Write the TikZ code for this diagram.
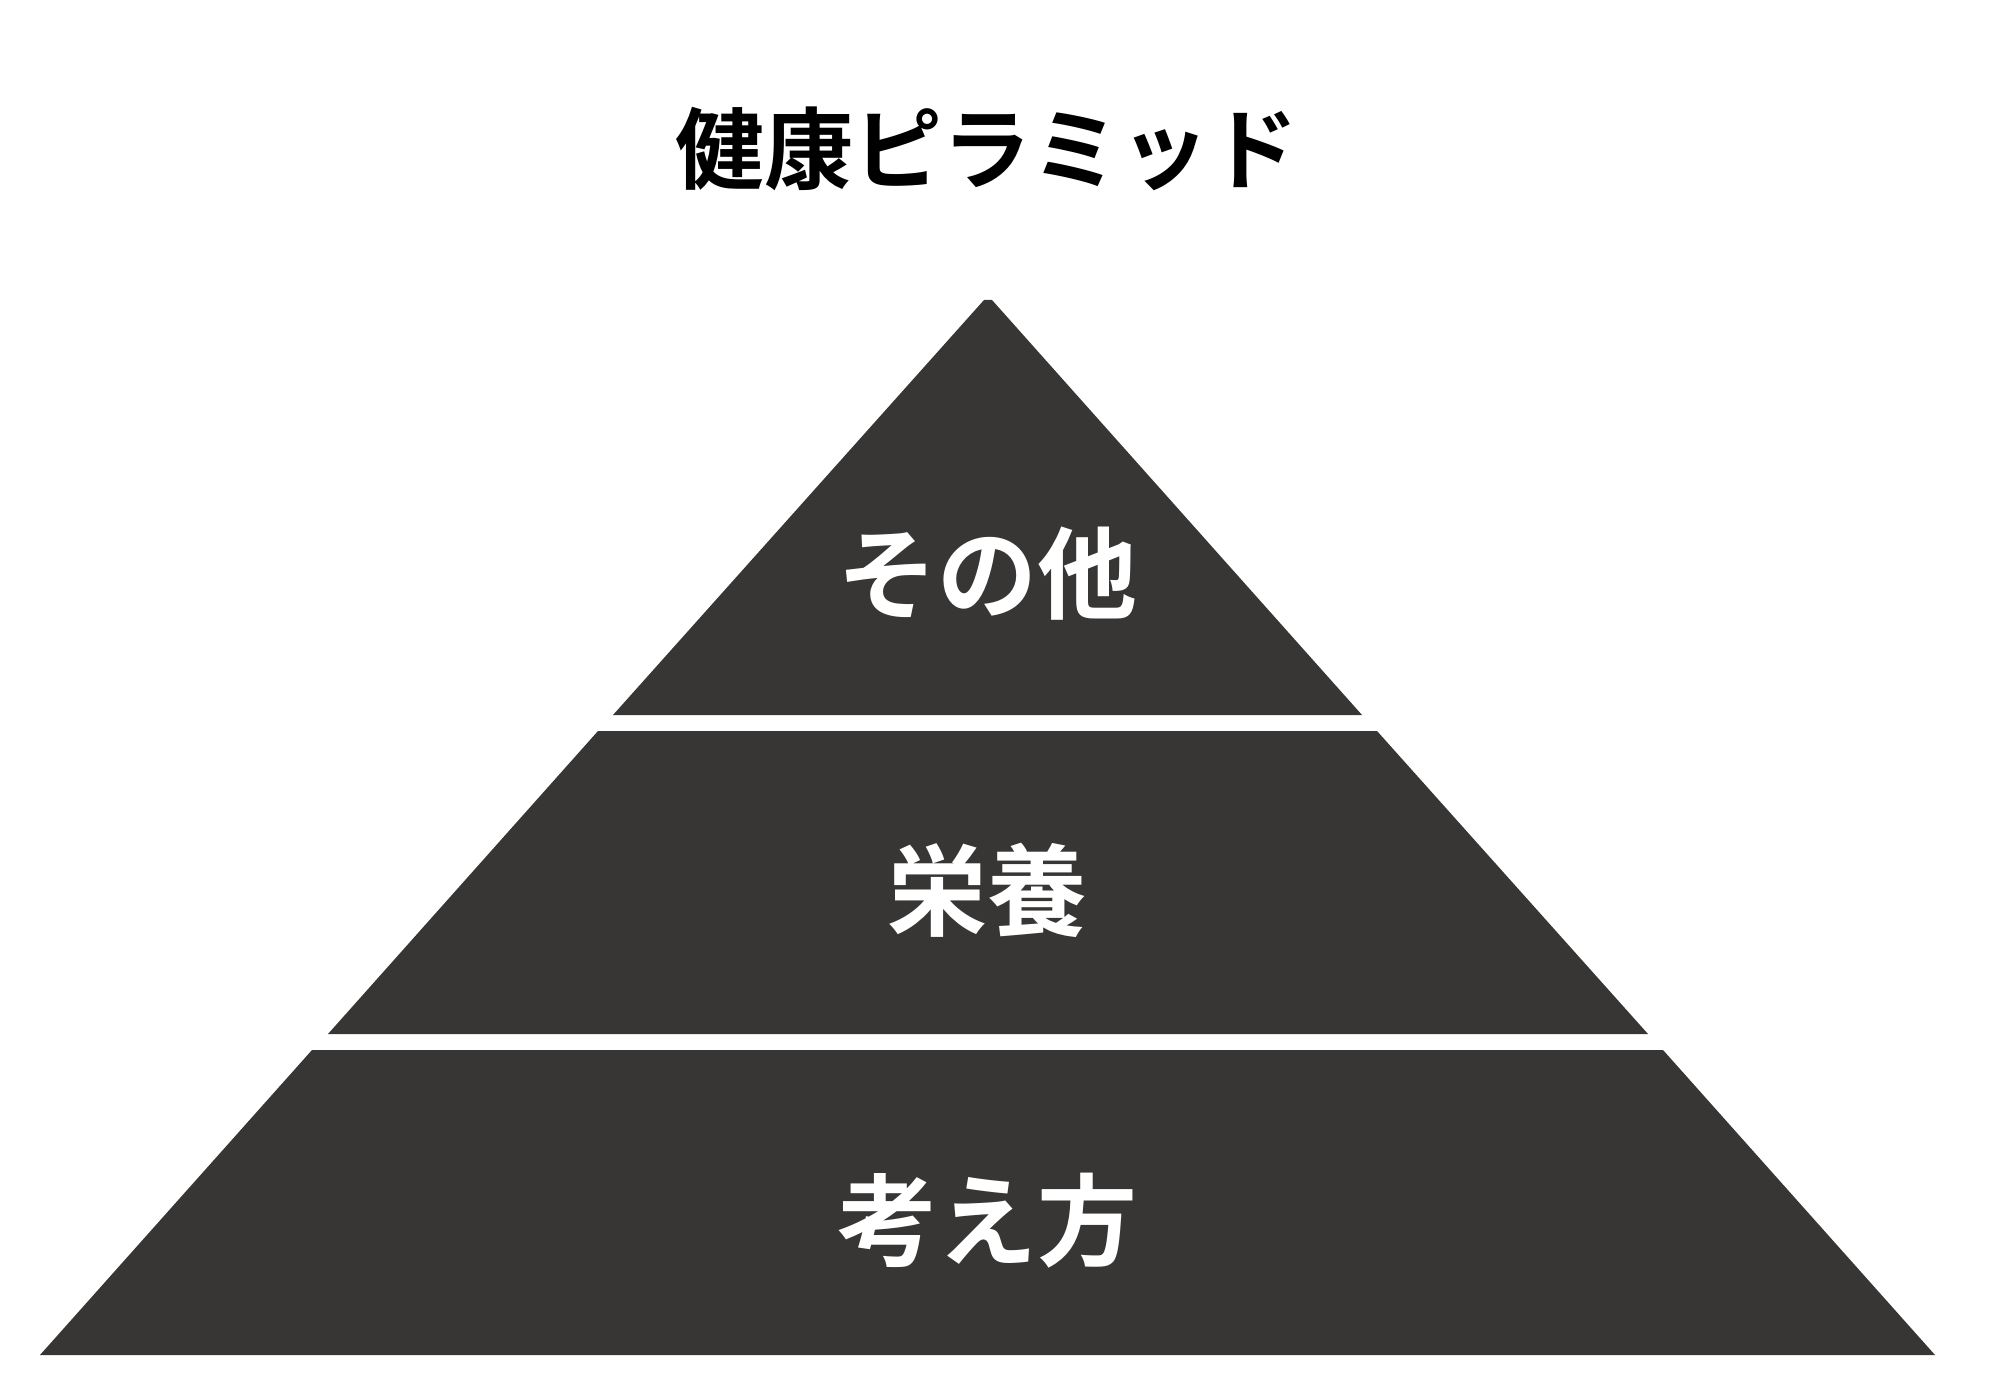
\documentclass[tikz,border=0pt]{standalone}
\usepackage{fontspec}
\newfontfamily\jpfont{Noto Sans CJK JP}[BoldFont={Noto Sans CJK JP Bold}]
\definecolor{pyrgray}{RGB}{56,54,52}
\tikzset{level/.style={fill=pyrgray},
  lbl/.style={text=white,font=\jpfont\bfseries\fontsize{50}{56}\selectfont}}
\begin{document}
\begin{tikzpicture}[x=0.5pt,y=-0.5pt]
\useasboundingbox (0,0) rectangle (2000,1400);
\node[font=\jpfont\bfseries\fontsize{44.5}{50}\selectfont] (title) at (987,149) {健康ピラミッド};
% pyramid levels
\fill[level] (984,300) -- (992,300) -- (1362,715) -- (613,715) -- cycle;
\fill[level] (598,731) -- (1377,731) -- (1648,1034) -- (328,1034) -- cycle;
\fill[level] (312,1050) -- (1663,1050) -- (1935,1355) -- (40,1355) -- cycle;
\node[lbl] (other) at (987,574) {その他};
\node[lbl] (eiyou) at (987,890) {栄養};
\node[lbl] (kangae) at (987,1221) {考え方};
\end{tikzpicture}
\end{document}
